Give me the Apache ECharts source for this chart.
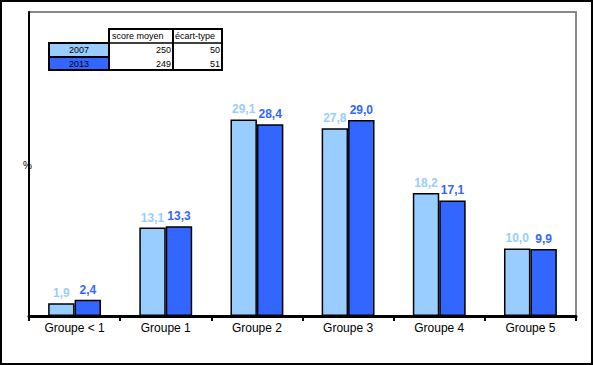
<!DOCTYPE html>
<html><head><meta charset="utf-8">
<script src="https://cdn.jsdelivr.net/npm/echarts@6/dist/echarts.min.js"></script>
<style>html,body{margin:0;padding:0;background:#fff}#c{width:593px;height:365px}</style>
</head><body><div id="c"></div>
<script>
var categories = ['Groupe < 1', 'Groupe 1', 'Groupe 2', 'Groupe 3', 'Groupe 4', 'Groupe 5'];
var values2007 = [1.9, 13.1, 29.1, 27.8, 18.2, 10.0];
var values2013 = [2.4, 13.3, 28.4, 29.0, 17.1, 9.9];
var seriesNames = ['2007', '2013'];
var tableHeader = ['score moyen', 'écart-type'];
var scoreMoyen = ['250', '249'];
var ecartType = ['50', '51'];
var yLabel = '%';

var C1 = '#99CCFF', C2 = '#3366FF';
var fmt = function (p) { return p.value.toFixed(1).replace('.', ','); };
var chart = echarts.init(document.getElementById('c'), null, {renderer: 'svg'});

var FONT = 'Arial, "Liberation Sans", sans-serif';
var tx = 49, ty = 29, c0 = 60, c1 = 64, c2 = 49, rh = [14, 14, 13];
var graphics = [
  {type: 'rect', shape: {x: 1, y: 1, width: 591, height: 363}, style: {fill: 'none', stroke: '#000', lineWidth: 2}, z: 10},
  {type: 'text', left: 23, top: 160, style: {text: yLabel, font: '10px ' + FONT, fill: '#000'}, z: 20}
];
// table
var xA = tx, xB = tx + c0, xC = xB + c1, xD = xC + c2;
var y0 = ty, y1 = ty + rh[0], y2 = y1 + rh[1], y3 = y2 + rh[2];
graphics.push({type: 'rect', shape: {x: xA, y: y1, width: c0, height: rh[1]}, style: {fill: C1, stroke: '#000', lineWidth: 2}, z: 10});
graphics.push({type: 'rect', shape: {x: xA, y: y2, width: c0, height: rh[2]}, style: {fill: C2, stroke: '#000', lineWidth: 2}, z: 10});
graphics.push({type: 'rect', shape: {x: xB, y: y0, width: c1, height: y3 - y0}, style: {fill: '#fff', stroke: '#000', lineWidth: 2}, z: 9});
graphics.push({type: 'rect', shape: {x: xC, y: y0, width: c2, height: y3 - y0}, style: {fill: '#fff', stroke: '#000', lineWidth: 2}, z: 9});
graphics.push({type: 'line', shape: {x1: xB, y1: y1, x2: xD, y2: y1}, style: {stroke: '#000', lineWidth: 1.5}, z: 10});
var tf = '9px ' + FONT;
graphics.push({type: 'text', x: xB + 3, y: y0 + 7, style: {text: tableHeader[0], font: tf, fill: '#000', verticalAlign: 'middle'}, z: 11});
graphics.push({type: 'text', x: xC + 2, y: y0 + 7, style: {text: tableHeader[1], font: tf, fill: '#000', verticalAlign: 'middle'}, z: 11});
[[y1, rh[1]], [y2, rh[2]]].forEach(function (r, i) {
  var cy = r[0] + r[1] / 2;
  graphics.push({type: 'text', x: xA + c0 / 2, y: cy, style: {text: seriesNames[i], font: tf, fill: '#000', align: 'center', verticalAlign: 'middle'}, z: 11});
  graphics.push({type: 'text', x: xC - 2, y: cy, style: {text: scoreMoyen[i], font: tf, fill: '#000', align: 'right', verticalAlign: 'middle'}, z: 11});
  graphics.push({type: 'text', x: xD - 2, y: cy, style: {text: ecartType[i], font: tf, fill: '#000', align: 'right', verticalAlign: 'middle'}, z: 11});
});

chart.setOption({
  animation: false,
  backgroundColor: '#fff',
  grid: {left: 29, right: 17, top: 12, bottom: 49, show: true, borderColor: '#888', borderWidth: 2, backgroundColor: 'transparent'},
  xAxis: {
    type: 'category', data: categories,
    axisLine: {lineStyle: {color: '#000', width: 3}},
    axisTick: {show: true, length: 5, lineStyle: {color: '#000', width: 2}},
    axisLabel: {color: '#000', fontSize: 12, fontFamily: FONT, margin: 6}
  },
  yAxis: {
    type: 'value', min: 0, max: 45,
    axisLine: {show: true, lineStyle: {color: '#000', width: 2}},
    axisTick: {show: false}, axisLabel: {show: false}, splitLine: {show: false}
  },
  series: [
    {name: seriesNames[0], type: 'bar', data: values2007, barGap: '0%', barCategoryGap: '42%',
     itemStyle: {color: C1, borderColor: '#000', borderWidth: 1.5},
     label: {show: true, position: 'top', distance: 4, formatter: fmt, color: C1, fontWeight: 'bold', fontSize: 12, fontFamily: FONT}},
    {name: seriesNames[1], type: 'bar', data: values2013, barGap: '0%', barCategoryGap: '42%',
     itemStyle: {color: C2, borderColor: '#000', borderWidth: 1.5},
     label: {show: true, position: 'top', distance: 4, formatter: fmt, color: C2, fontWeight: 'bold', fontSize: 12, fontFamily: FONT}}
  ],
  graphic: graphics
});
</script></body></html>
